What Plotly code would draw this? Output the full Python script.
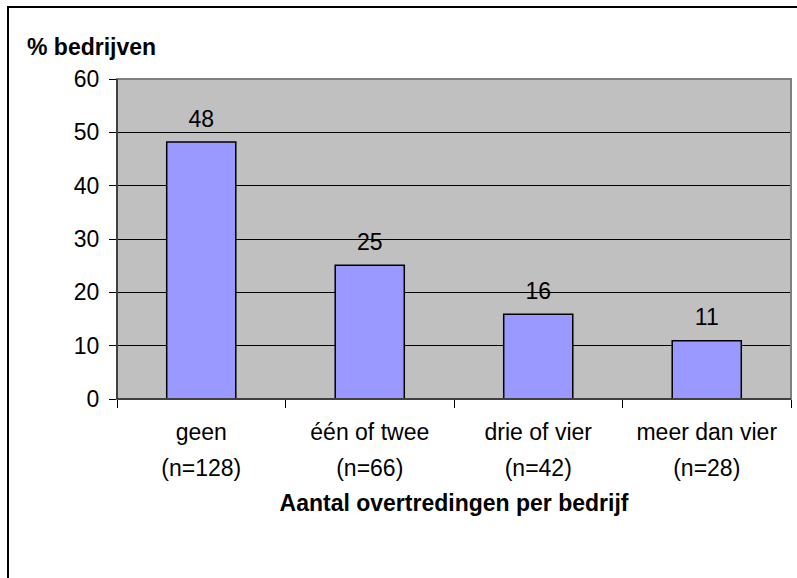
import plotly.graph_objects as go

categories = ["geen", "één of twee", "drie of vier", "meer dan vier"]
counts = ["(n=128)", "(n=66)", "(n=42)", "(n=28)"]
values = [48.2, 25.1, 15.9, 10.9]
labels = ["48", "25", "16", "11"]

W, H = 797, 578
L, R, T, B = 117, 6, 79, 179
pw, ph = W - L - R, H - T - B

def px_x(x):
    return (x - L) / pw

def px_y(y):
    return (H - B - y) / ph

font = "Liberation Sans, Arial, sans-serif"

ticktext = [f"<span style='font-size:23px'>{c}</span><br><span style='font-size:23px'>{n}</span>"
            for c, n in zip(categories, counts)]
bar_text = [f"<span style='font-size:23px'>{t}</span><br> " for t in labels]

fig = go.Figure(go.Bar(
    x=categories, y=values, text=bar_text, textposition="outside",
    textfont=dict(size=8, color="black", family=font),
    marker=dict(color="#9999FF", line=dict(color="black", width=1.5)),
    cliponaxis=False,
))

fig.update_layout(
    width=W, height=H,
    margin=dict(l=L, r=R, t=T, b=B),
    paper_bgcolor="white", plot_bgcolor="#C0C0C0",
    bargap=0.59, showlegend=False,
    font=dict(family=font, size=22, color="black"),
    xaxis=dict(
        showgrid=False, showline=True, linecolor="black", linewidth=1,
        ticks="outside", tickson="boundaries", ticklen=8, tickcolor="black",
        tickvals=categories, ticktext=ticktext, ticklabelstandoff=6,
        tickfont=dict(size=28), title=dict(text="<b>Aantal overtredingen per bedrijf</b>",
                                           font=dict(size=23), standoff=14),
    ),
    yaxis=dict(
        range=[0, 60], dtick=10, showgrid=True, gridcolor="black", gridwidth=1,
        showline=True, linecolor="black", linewidth=1, zeroline=False,
        ticks="outside", ticklen=7, tickcolor="black", tickfont=dict(size=23),
        ticklabelstandoff=5,
    ),
    annotations=[dict(
        text="<b>% bedrijven</b>", xref="paper", yref="paper",
        x=px_x(25), y=px_y(47), xanchor="left", yanchor="middle",
        showarrow=False, font=dict(size=23, family=font),
    )],
    shapes=[
        dict(type="rect", xref="paper", yref="paper", x0=0, x1=1, y0=0, y1=1,
             line=dict(color="#808080", width=2), layer="above"),
        dict(type="line", xref="paper", yref="paper", x0=0, x1=0, y0=0, y1=1,
             line=dict(color="black", width=1), layer="above"),
        dict(type="line", xref="paper", yref="paper", x0=0, x1=1, y0=0, y1=0,
             line=dict(color="black", width=1), layer="above"),
        dict(type="rect", xref="paper", yref="paper",
             x0=px_x(8), x1=px_x(820), y0=px_y(600), y1=px_y(7),
             line=dict(color="black", width=2), layer="below"),
    ],
)

fig.write_html("out.html", config={"displayModeBar": False},
               post_script="document.body.style.margin='0px';document.body.style.overflow='hidden';")
